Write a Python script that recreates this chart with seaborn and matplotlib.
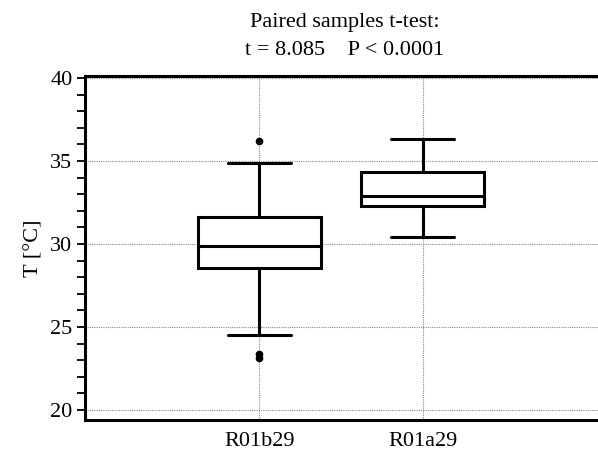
import matplotlib.pyplot as plt
import seaborn as sns

# summary values (degrees C)
groups = ["R01b29", "R01a29"]
whisker_low = [24.5, 30.4]
q1 = [28.55, 32.3]
median = [29.9, 32.9]
q3 = [31.6, 34.35]
whisker_high = [34.9, 36.35]
outliers = [[36.2, 23.4, 23.15], []]

title = "Paired samples t-test:\nt = 8.085    P < 0.0001"
ylabel = "T [°C]"

sns.set_theme(style="white")
plt.rcParams["font.family"] = ["Liberation Serif", "DejaVu Serif"]
plt.rcParams["text.color"] = "black"
plt.rcParams["axes.labelcolor"] = "black"
plt.rcParams["xtick.color"] = "black"
plt.rcParams["ytick.color"] = "black"

stats = []
for i, g in enumerate(groups):
    stats.append({"label": g, "whislo": whisker_low[i], "q1": q1[i], "med": median[i],
                  "q3": q3[i], "whishi": whisker_high[i], "fliers": outliers[i]})

fig = plt.figure(figsize=(5.98, 4.58), dpi=100)
ax = fig.add_axes([0.142, 0.083, 0.87, 0.751])

lw = 2.2
ax.bxp(stats, positions=[0, 1], widths=0.75, patch_artist=True,
       boxprops=dict(facecolor="white", edgecolor="black", linewidth=lw),
       medianprops=dict(color="black", linewidth=lw),
       whiskerprops=dict(color="black", linewidth=lw),
       capprops=dict(color="black", linewidth=lw),
       capwidths=0.39,
       flierprops=dict(marker="o", markerfacecolor="black", markeredgecolor="black", markersize=4.5),
       zorder=3)

ax.set_xlim(-1.07, 2.12)
ax.set_ylim(19.4, 40.12)
ax.set_yticks([20, 25, 30, 35, 40])
ax.set_yticks(range(20, 41), minor=True)
ax.set_xticks([0, 1])
ax.set_xticklabels(groups)

ax.grid(True, which="major", color="#888888", linestyle=(0, (1, 1)), linewidth=0.8, zorder=0)
ax.set_axisbelow(True)

for side in ["left", "bottom", "top"]:
    ax.spines[side].set_color("black")
    ax.spines[side].set_linewidth(2.2)
ax.spines["right"].set_visible(False)

ax.tick_params(axis="y", which="major", direction="out", length=6, width=1.3,
               labelsize=16, pad=3, left=True)
ax.tick_params(axis="y", which="minor", direction="out", length=6, width=1.3, left=True)
ax.tick_params(axis="x", which="both", length=0, labelsize=16, pad=9)

ax.set_ylabel(ylabel, fontsize=16, labelpad=5)
ax.set_title(title, fontsize=16, linespacing=1.65, pad=15)

fig.savefig("out.png", dpi=100)
